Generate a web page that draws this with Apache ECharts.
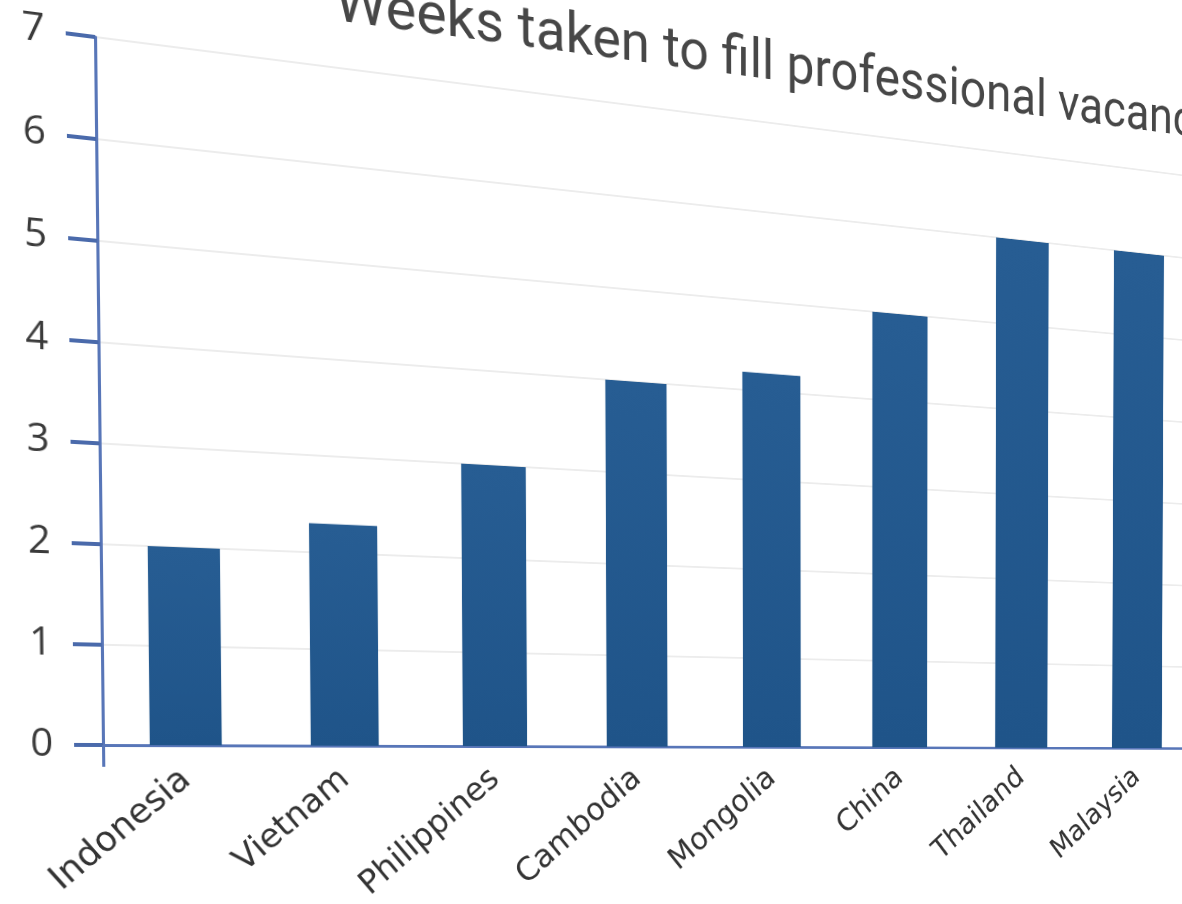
<!DOCTYPE html>
<html>
<head>
<meta charset="utf-8">
<script src="https://cdn.jsdelivr.net/npm/echarts@6/dist/echarts.min.js"></script>
<style>
  html, body { margin: 0; padding: 0; background: #ffffff; overflow: hidden; width: 1182px; height: 904px; }
  #chart { position: absolute; left: 0; top: 0; transform-origin: 0 0; }
</style>
</head>
<body>
<div id="chart"></div>
<script>
// ---- data ----
const titleText = 'Weeks taken to fill professional vacancies';
const categories = ['Indonesia', 'Vietnam', 'Philippines', 'Cambodia', 'Mongolia', 'China', 'Thailand', 'Malaysia'];
const values = [2.0, 2.3, 3.0, 4.0, 4.2, 5.0, 6.0, 6.0];
const yMin = 0;
const yMax = 7;
const yInterval = 1;

// ---- flat layout (before the perspective view is applied) ----
const FL = 120, FT = 100, BW = 164;
const GW = BW * categories.length, GH = 707;
const FW = FL + GW + 260, FH = FT + GH + 260;

const el = document.getElementById('chart');
el.style.width = FW + 'px';
el.style.height = FH + 'px';

const chart = echarts.init(el, null, { renderer: 'canvas', width: FW, height: FH });
const blue = '#5876b8';
chart.setOption({
  animation: false,
  backgroundColor: '#ffffff',
  title: {
    text: titleText,
    left: 356, top: -1,
    textStyle: { fontFamily: 'Roboto, "Open Sans", sans-serif', fontWeight: 'normal', fontSize: 62, color: '#474747' }
  },
  grid: { left: FL, top: FT, width: GW, height: GH },
  xAxis: {
    type: 'category',
    data: categories,
    axisLine: { show: true, lineStyle: { color: blue, width: 3 } },
    axisTick: { show: true, length: 22, interval: function (i) { return i === 0; }, lineStyle: { color: blue, width: 3 } },
    axisLabel: { interval: 0, rotate: 40, margin: 31, fontFamily: '"DejaVu Sans", sans-serif', fontSize: 35, color: '#333333' },
    splitLine: { show: false }
  },
  yAxis: {
    type: 'value',
    min: yMin, max: yMax, interval: yInterval,
    axisLine: { show: true, lineStyle: { color: blue, width: 3 } },
    axisTick: { show: true, length: 28, lineStyle: { color: '#4a6aab', width: 4 } },
    axisLabel: { margin: 48, fontFamily: '"Open Sans", sans-serif', fontSize: 38, color: '#3a3a3a' },
    splitLine: { show: true, lineStyle: { color: '#ececec', width: 2 } }
  },
  series: [{
    type: 'bar',
    data: values,
    barWidth: '44%',
    itemStyle: {
      color: new echarts.graphic.LinearGradient(0, 0, 0, 1, [
        { offset: 0, color: '#275d93' },
        { offset: 1, color: '#1f5489' }
      ])
    }
  }]
});

// ---- perspective view: map flat anchors onto the photographed positions ----
const last = categories.length - 1;
const ax = FL;
const pTop = chart.convertToPixel({ yAxisIndex: 0 }, 7);
const pZero = chart.convertToPixel({ yAxisIndex: 0 }, 0);
const pSix = chart.convertToPixel({ yAxisIndex: 0 }, 6);
const xLast = chart.convertToPixel({ xAxisIndex: 0 }, last);
const src = [[ax, pTop], [ax, pZero], [xLast, pZero], [xLast, pSix]];
const dst = [[95, 37], [103, 745], [1137, 748], [1139, 253]];

function solve(A, b) {
  const n = b.length;
  for (let i = 0; i < n; i++) {
    let p = i;
    for (let r = i + 1; r < n; r++) if (Math.abs(A[r][i]) > Math.abs(A[p][i])) p = r;
    [A[i], A[p]] = [A[p], A[i]]; [b[i], b[p]] = [b[p], b[i]];
    for (let r = i + 1; r < n; r++) {
      const f = A[r][i] / A[i][i];
      for (let c = i; c < n; c++) A[r][c] -= f * A[i][c];
      b[r] -= f * b[i];
    }
  }
  const x = new Array(n).fill(0);
  for (let i = n - 1; i >= 0; i--) {
    let s = b[i];
    for (let c = i + 1; c < n; c++) s -= A[i][c] * x[c];
    x[i] = s / A[i][i];
  }
  return x;
}
const A = [], b = [];
for (let k = 0; k < 4; k++) {
  const [X, Y] = src[k], [x, y] = dst[k];
  A.push([X, Y, 1, 0, 0, 0, -X * x, -Y * x]); b.push(x);
  A.push([0, 0, 0, X, Y, 1, -X * y, -Y * y]); b.push(y);
}
const h = solve(A, b);
el.style.transform = 'matrix3d(' + [h[0], h[3], 0, h[6], h[1], h[4], 0, h[7], 0, 0, 1, 0, h[2], h[5], 0, 1].join(',') + ')';
</script>
</body>
</html>
